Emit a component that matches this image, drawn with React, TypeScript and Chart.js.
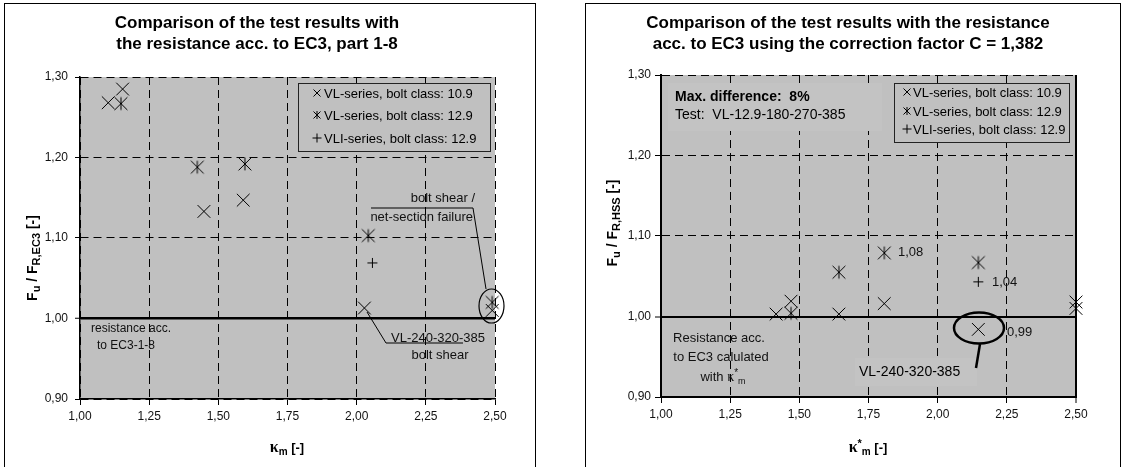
import React, { useEffect, useRef } from 'react';
import { Chart, registerables } from 'chart.js';
Chart.register(...registerables);

const SANS = 'Arial, "Liberation Sans", Helvetica, sans-serif';
const SERIF = '"Times New Roman", "Liberation Serif", serif';

// axis ranges
const X_MIN = 1.0;
const X_MAX = 2.5;
const X_STEP = 0.25;
const Y_MIN = 0.9;
const Y_MAX = 1.3;
const Y_STEP = 0.1;

// left chart: kappa_m vs Fu / FR,EC3
const leftVL109X = [1.154, 1.102, 1.448, 1.590, 2.028, 2.49];
const leftVL109Y = [1.285, 1.268, 1.133, 1.147, 1.013, 1.010];
const leftVL129X = [1.148, 1.424, 1.596, 2.042, 2.49];
const leftVL129Y = [1.267, 1.188, 1.192, 1.103, 1.020];
const leftVLIX = [2.057];
const leftVLIY = [1.069];

// right chart: kappa*_m vs Fu / FR,HSS
const rightVL109X = [1.416, 1.470, 1.643, 1.807, 2.147, 2.50];
const rightVL109Y = [1.003, 1.019, 1.003, 1.016, 0.984, 1.010];
const rightVL129X = [1.470, 1.643, 1.807, 2.147, 2.50];
const rightVL129Y = [1.004, 1.055, 1.079, 1.067, 1.018];
const rightVLIX = [2.147];
const rightVLIY = [1.043];

const legendLabels = [
  'VL-series, bolt class: 10.9',
  'VL-series, bolt class: 12.9',
  'VLI-series, bolt class: 12.9',
];
const leftTitle = ['Comparison of the test results with', 'the resistance acc. to EC3, part 1-8'];
const rightTitle = [
  'Comparison of the test results with the resistance',
  'acc. to EC3 using the correction factor C = 1,382',
];

const fmt = (v: any) => Number(v).toFixed(2).replace('.', ',');

function asteriskImage(half: number) {
  const size = Math.ceil(half * 2) + 3;
  const c = document.createElement('canvas');
  c.width = size;
  c.height = size;
  const g = c.getContext('2d')!;
  g.strokeStyle = '#000';
  g.lineWidth = 1;
  const m = size / 2;
  g.beginPath();
  g.moveTo(m - half, m - half);
  g.lineTo(m + half, m + half);
  g.moveTo(m + half, m - half);
  g.lineTo(m - half, m + half);
  g.moveTo(m, m - half);
  g.lineTo(m, m + half);
  g.stroke();
  return c;
}

type Seg = { t: string; f: string; dy?: number };
function rich(ctx: CanvasRenderingContext2D, segs: Seg[], x: number, y: number, align: string, rot = 0) {
  ctx.save();
  ctx.translate(x, y);
  if (rot) ctx.rotate(rot);
  ctx.textAlign = 'left';
  ctx.textBaseline = 'alphabetic';
  let total = 0;
  for (const s of segs) {
    ctx.font = s.f;
    total += ctx.measureText(s.t).width;
  }
  let cx = align === 'center' ? -total / 2 : align === 'right' ? -total : 0;
  for (const s of segs) {
    ctx.font = s.f;
    ctx.fillText(s.t, cx, s.dy || 0);
    cx += ctx.measureText(s.t).width;
  }
  ctx.restore();
}
function txt(ctx: CanvasRenderingContext2D, t: string, x: number, y: number, align: any, font: string) {
  ctx.font = font;
  ctx.textAlign = align;
  ctx.textBaseline = 'alphabetic';
  ctx.fillText(t, x, y);
}
function line(ctx: CanvasRenderingContext2D, pts: number[][], w = 1) {
  ctx.save();
  ctx.lineWidth = w;
  ctx.strokeStyle = '#000';
  ctx.beginPath();
  ctx.moveTo(pts[0][0], pts[0][1]);
  for (let i = 1; i < pts.length; i++) ctx.lineTo(pts[i][0], pts[i][1]);
  ctx.stroke();
  ctx.restore();
}
function ellipse(ctx: CanvasRenderingContext2D, cx: number, cy: number, rx: number, ry: number, w: number) {
  ctx.save();
  ctx.lineWidth = w;
  ctx.strokeStyle = '#000';
  ctx.beginPath();
  ctx.ellipse(cx, cy, rx, ry, 0, 0, Math.PI * 2);
  ctx.stroke();
  ctx.restore();
}
function legendMarker(ctx: CanvasRenderingContext2D, kind: number, x: number, y: number) {
  const h = 3.5;
  ctx.save();
  ctx.strokeStyle = '#000';
  ctx.lineWidth = 1;
  ctx.beginPath();
  if (kind === 0 || kind === 1) {
    ctx.moveTo(x - h, y - h);
    ctx.lineTo(x + h, y + h);
    ctx.moveTo(x + h, y - h);
    ctx.lineTo(x - h, y + h);
  }
  if (kind === 1) {
    ctx.moveTo(x, y - h - 0.5);
    ctx.lineTo(x, y + h + 0.5);
  }
  if (kind === 2) {
    ctx.moveTo(x - 4.5, y);
    ctx.lineTo(x + 4.5, y);
    ctx.moveTo(x, y - 4.5);
    ctx.lineTo(x, y + 4.5);
  }
  ctx.stroke();
  ctx.restore();
}
function legend(ctx: CanvasRenderingContext2D, bx: number, by: number, bw: number, bh: number, rows: number[], mx: number, tx: number) {
  ctx.save();
  ctx.fillStyle = '#C0C0C0';
  ctx.fillRect(bx, by, bw, bh);
  ctx.strokeStyle = '#222';
  ctx.lineWidth = 1;
  ctx.strokeRect(bx + 0.5, by + 0.5, bw, bh);
  ctx.fillStyle = '#000';
  legendLabels.forEach((l, i) => {
    legendMarker(ctx, i, mx, rows[i]);
    txt(ctx, l, tx, rows[i] + 4.5, 'left', `13px ${SANS}`);
  });
  ctx.restore();
}

function datasets(ax: number[], ay: number[], bx: number[], by: number[], cx: number[], cy: number[], star: HTMLCanvasElement) {
  const base = { showLine: false, borderColor: '#000', backgroundColor: '#000', pointBorderWidth: 1, clip: false as any };
  return [
    { ...base, label: legendLabels[0], data: ax.map((x, i) => ({ x, y: ay[i] })), pointStyle: 'crossRot', pointRadius: 9 },
    { ...base, label: legendLabels[1], data: bx.map((x, i) => ({ x, y: by[i] })), pointStyle: star as any, pointRadius: 7 },
    { ...base, label: legendLabels[2], data: cx.map((x, i) => ({ x, y: cy[i] })), pointStyle: 'cross', pointRadius: 5 },
  ];
}

function scaleOpts(o: { xHeight: number; yTickPad: number; axisW: number; oneW: number; rightSolid: boolean; yTickLen: number }) {
  const isV = (c: any, v: number) => c && c.tick && Math.abs(c.tick.value - v) < 1e-6;
  return {
    x: {
      type: 'linear',
      min: X_MIN,
      max: X_MAX,
      afterFit: (s: any) => {
        s.height = o.xHeight;
      },
      ticks: {
        stepSize: X_STEP,
        callback: (v: any) => fmt(v),
        color: '#111',
        font: { family: SANS, size: 12 },
        padding: 4,
        maxRotation: 0,
        autoSkip: false,
      },
      grid: {
        color: '#000',
        lineWidth: (c: any) => (o.rightSolid && isV(c, X_MAX) ? 2 : 1),
        tickLength: 6,
        tickColor: '#000',
        tickWidth: 1,
      },
      border: {
        display: true,
        color: '#000',
        width: o.axisW,
        dash: (c: any) => (o.rightSolid && isV(c, X_MAX) ? [] : [8, 5]),
      },
    },
    y: {
      type: 'linear',
      min: Y_MIN,
      max: Y_MAX,
      afterFit: (s: any) => {
        s.width = 80;
      },
      ticks: {
        stepSize: Y_STEP,
        callback: (v: any) => fmt(v),
        color: '#111',
        font: { family: SANS, size: 12 },
        padding: o.yTickPad,
      },
      grid: {
        color: '#000',
        lineWidth: (c: any) => (isV(c, 1) ? o.oneW : 1),
        tickLength: o.yTickLen,
        tickColor: '#000',
        tickWidth: 1,
      },
      border: {
        display: true,
        color: '#000',
        width: o.axisW,
        dash: (c: any) => (isV(c, 1) ? [] : [8, 5]),
      },
    },
  };
}

const bgPlugin = {
  id: 'plotBg',
  beforeDraw(chart: any) {
    const { ctx, chartArea: a } = chart;
    ctx.save();
    ctx.fillStyle = '#C0C0C0';
    ctx.fillRect(a.left, a.top, a.right - a.left, a.bottom - a.top);
    ctx.restore();
  },
};

function leftDecor(chart: any) {
  const ctx: CanvasRenderingContext2D = chart.ctx;
  ctx.save();
  ctx.fillStyle = '#000';
  txt(ctx, leftTitle[0], 257, 28, 'center', `bold 17px ${SANS}`);
  txt(ctx, leftTitle[1], 257, 49, 'center', `bold 17px ${SANS}`);
  rich(
    ctx,
    [
      { t: 'F', f: `bold 14px ${SANS}` },
      { t: 'u', f: `bold 11px ${SANS}`, dy: 3 },
      { t: ' / F', f: `bold 14px ${SANS}` },
      { t: 'R,EC3', f: `bold 11px ${SANS}`, dy: 3 },
      { t: ' [-]', f: `bold 14px ${SANS}` },
    ],
    37,
    258,
    'center',
    -Math.PI / 2
  );
  rich(
    ctx,
    [
      { t: 'κ', f: `bold 16px ${SERIF}` },
      { t: 'm', f: `bold 10px ${SANS}`, dy: 3 },
      { t: ' [-]', f: `bold 13px ${SANS}` },
    ],
    287,
    452,
    'center'
  );
  legend(ctx, 298, 83, 192, 68, [93, 115, 138], 317, 324);
  ctx.fillStyle = '#111';
  txt(ctx, 'resistance acc.', 131, 332, 'center', `12px ${SANS}`);
  txt(ctx, 'to EC3-1-8', 126, 349, 'center', `12px ${SANS}`);
  txt(ctx, 'bolt shear /', 475, 202, 'right', `13px ${SANS}`);
  txt(ctx, 'net-section failure', 473, 221, 'right', `13px ${SANS}`);
  line(ctx, [[371, 208], [473, 208], [486, 289]]);
  ellipse(ctx, 491.5, 306, 12.5, 17, 1.2);
  txt(ctx, 'VL-240-320-385', 485, 342, 'right', `13px ${SANS}`);
  txt(ctx, 'bolt shear', 440, 359, 'center', `13px ${SANS}`);
  line(ctx, [[367, 312], [386, 343], [463, 343]]);
  ctx.restore();
}

function rightDecor(chart: any) {
  const ctx: CanvasRenderingContext2D = chart.ctx;
  ctx.save();
  ctx.fillStyle = '#000';
  txt(ctx, rightTitle[0], 848, 28, 'center', `bold 17px ${SANS}`);
  txt(ctx, rightTitle[1], 848, 49, 'center', `bold 17px ${SANS}`);
  rich(
    ctx,
    [
      { t: 'F', f: `bold 14px ${SANS}` },
      { t: 'u', f: `bold 11px ${SANS}`, dy: 3 },
      { t: ' / F', f: `bold 14px ${SANS}` },
      { t: 'R,HSS', f: `bold 11px ${SANS}`, dy: 3 },
      { t: ' [-]', f: `bold 14px ${SANS}` },
    ],
    617,
    223,
    'center',
    -Math.PI / 2
  );
  rich(
    ctx,
    [
      { t: 'κ', f: `bold 16px ${SERIF}` },
      { t: '*', f: `bold 11px ${SANS}`, dy: -5 },
      { t: 'm', f: `bold 10px ${SANS}`, dy: 3 },
      { t: ' [-]', f: `bold 13px ${SANS}` },
    ],
    868,
    452,
    'center'
  );
  // faint text backgrounds
  ctx.fillStyle = '#C3C3C3';
  ctx.fillRect(668, 83, 214, 48);
  ctx.fillRect(855, 358, 122, 28);
  ctx.fillStyle = '#000';
  txt(ctx, 'Max. difference:  8%', 675, 101, 'left', `bold 14px ${SANS}`);
  txt(ctx, 'Test:  VL-12.9-180-270-385', 675, 119, 'left', `14px ${SANS}`);
  legend(ctx, 894, 83, 175, 59, [92, 111, 129], 907, 913);
  ctx.fillStyle = '#111';
  txt(ctx, '1,08', 898, 255.5, 'left', `13px ${SANS}`);
  txt(ctx, '1,04', 992, 285.5, 'left', `13px ${SANS}`);
  txt(ctx, '0,99', 1007, 335.5, 'left', `13px ${SANS}`);
  ellipse(ctx, 979, 328, 25, 15.5, 2.5);
  line(ctx, [[980, 344], [976, 368]], 2.5);
  ctx.fillStyle = '#000';
  txt(ctx, 'VL-240-320-385', 859, 376, 'left', `14px ${SANS}`);
  ctx.fillStyle = '#111';
  txt(ctx, 'Resistance acc.', 719, 342, 'center', `13px ${SANS}`);
  txt(ctx, 'to EC3 calulated', 721, 361, 'center', `13px ${SANS}`);
  rich(
    ctx,
    [
      { t: 'with ', f: `13px ${SANS}` },
      { t: 'κ', f: `14px ${SERIF}` },
      { t: '*', f: `10px ${SANS}`, dy: -5 },
      { t: 'm', f: `9px ${SANS}`, dy: 3 },
    ],
    723,
    381,
    'center'
  );
  ctx.restore();
}

function makeConfig(side: 'left' | 'right'): any {
  const star = asteriskImage(6.4);
  const left = side === 'left';
  return {
    type: 'scatter',
    data: {
      datasets: left
        ? datasets(leftVL109X, leftVL109Y, leftVL129X, leftVL129Y, leftVLIX, leftVLIY, star)
        : datasets(rightVL109X, rightVL109Y, rightVL129X, rightVL129Y, rightVLIX, rightVLIY, star),
    },
    options: {
      responsive: false,
      animation: false,
      events: [],
      layout: left
        ? { padding: { left: 0, top: 77, right: 628, bottom: 0 } }
        : { padding: { left: 581, top: 75, right: 47, bottom: 0 } },
      plugins: { legend: { display: false }, title: { display: false }, tooltip: { enabled: false } },
      scales: left
        ? scaleOpts({ xHeight: 68, yTickPad: 7, axisW: 1.5, oneW: 2.5, rightSolid: false, yTickLen: 5 })
        : scaleOpts({ xHeight: 70, yTickPad: 4, axisW: 2, oneW: 2, rightSolid: true, yTickLen: 6 }),
    },
    plugins: [bgPlugin, { id: 'decor_' + side, afterDraw: left ? leftDecor : rightDecor }],
  };
}

export default function App() {
  const leftRef = useRef<HTMLCanvasElement>(null);
  const rightRef = useRef<HTMLCanvasElement>(null);
  useEffect(() => {
    const a = new Chart(leftRef.current!, makeConfig('left'));
    const b = new Chart(rightRef.current!, makeConfig('right'));
    return () => {
      a.destroy();
      b.destroy();
    };
  }, []);
  const cs: any = { position: 'absolute', left: 0, top: 0, width: 1123, height: 467 };
  return (
    <div style={{ position: 'absolute', left: 0, top: 0, width: 1123, height: 467, overflow: 'hidden', background: '#fff' }}>
      <div style={{ position: 'absolute', left: 4, top: 3, width: 532, height: 500, border: '1px solid #000', boxSizing: 'border-box' }} />
      <div style={{ position: 'absolute', left: 585, top: 3, width: 536, height: 500, border: '1px solid #000', boxSizing: 'border-box' }} />
      <canvas ref={leftRef} width={1123} height={467} style={cs} />
      <canvas ref={rightRef} width={1123} height={467} style={cs} />
    </div>
  );
}
